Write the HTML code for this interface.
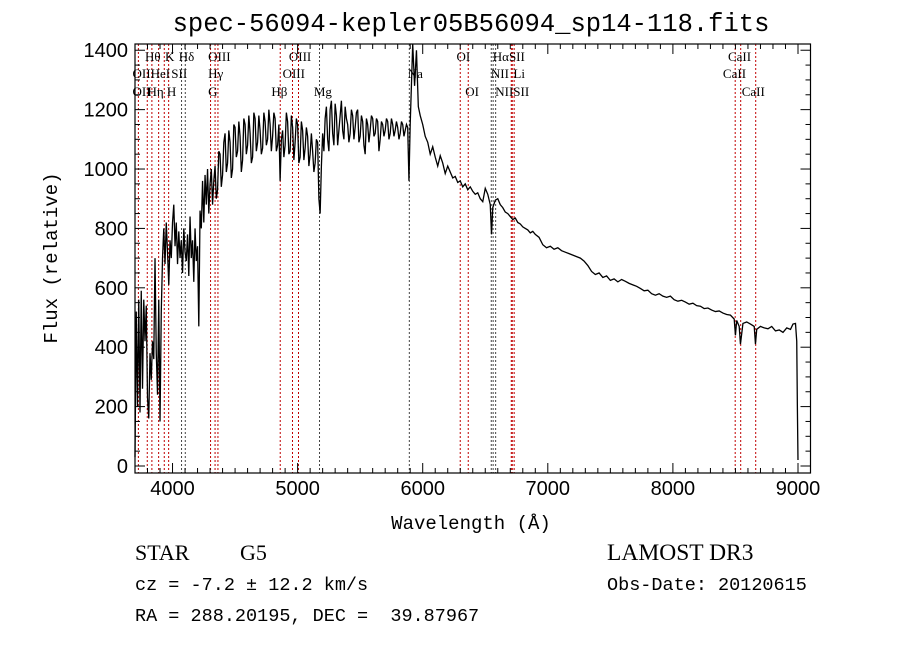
<!DOCTYPE html>
<html><head><meta charset="utf-8">
<style>
html,body{margin:0;padding:0;background:#fff;}
svg{display:block;}
.t{font-family:"Liberation Sans",sans-serif;fill:#000;}
.s{font-family:"Liberation Serif",serif;fill:#000;}
.m{font-family:"Liberation Mono",monospace;fill:#000;}
</style></head>
<body>
<svg id="chart" width="900" height="649" viewBox="0 0 900 649" xmlns="http://www.w3.org/2000/svg">
<rect width="900" height="649" fill="#fff"/>
<text class="m" x="471" y="31" font-size="25.5" text-anchor="middle">spec-56094-kepler05B56094_sp14-118.fits</text>
<g id="lines"></g>
<g id="labels"></g>
<path id="spec" fill="none" stroke="#000" stroke-width="1.3"/>
<rect x="135" y="44" width="675.5" height="429" fill="none" stroke="#000" stroke-width="1.2"/>
<g id="ticks"></g>
<text class="m" x="471" y="529" font-size="19" text-anchor="middle">Wavelength (Å)</text>
<text class="m" x="57" y="258" font-size="19" text-anchor="middle" transform="rotate(-90 57 258)">Flux (relative)</text>
<text class="s" x="135" y="560" font-size="22">STAR</text>
<text class="s" x="240" y="560" font-size="22">G5</text>
<text class="s" x="607" y="560" font-size="23.5">LAMOST DR3</text>
<text class="m" x="135" y="590" font-size="18.5">cz = -7.2 ± 12.2 km/s</text>
<text class="m" x="607" y="590" font-size="18.5">Obs-Date: 20120615</text>
<text class="m" x="135" y="621" font-size="18.5" xml:space="preserve">RA = 288.20195, DEC =  39.87967</text>
</svg>
<script>
const wavelengths = [3700,3710,3720,3730,3740,3750,3760,3770,3780,3790,3800,3810,3820,3830,3840,3850,3860,3870,3880,3890,3900,3910,3920,3930,3940,3950,3960,3970,3980,3990,4000,4010,4020,4030,4040,4050,4060,4070,4080,4090,4100,4110,4120,4130,4140,4150,4160,4170,4180,4190,4200,4210,4220,4230,4240,4250,4260,4270,4280,4290,
4300,4310,4320,4330,4340,4350,4360,4370,4380,4390,4400,4410,4420,4430,4440,4450,4460,4470,4480,4490,4500,4510,4520,4530,4540,4550,4560,4570,4580,4590,4600,4610,4620,4630,4640,4650,4660,4670,4680,4690,4700,4710,4720,4730,4740,4750,4760,4770,4780,4790,4800,4810,4820,4830,4840,4850,4860,4870,4880,4890,4900,4910,4920,4930,4940,4950,4960,4970,4980,4990,5000,5010,5020,5030,5040,5050,5060,5070,5080,5090,5100,5110,5120,5130,5140,5150,5160,5170,5180,5190,5200,5210,5220,5230,5240,5250,5260,5270,5280,5290,5300,5310,5320,5330,5340,5350,5360,5370,5380,5390,5400,5410,5420,5430,5440,5450,5460,5470,5480,5490,5500,5510,5520,5530,5540,5550,5560,5570,5580,5590,5600,5610,5620,5630,5640,5650,5660,5670,5680,5690,5700,5710,5720,5730,5740,5750,5760,5770,5780,5790,5800,5810,5820,5830,5840,5850,5860,5870,5880,
5890,5900,5920,5935,5950,5965,5980,
6000,6020,6040,6060,6080,6100,6120,6140,6160,6180,6200,6220,6240,6260,6280,6300,6320,6340,6360,6380,6400,6420,6440,6460,6480,6500,6520,6540,6550,6560,6580,6600,6620,6640,6660,6680,6700,6720,6740,6760,6780,6800,6820,6840,6860,6880,
6900,6930,6960,6990,7020,7050,7080,7110,7140,7170,7200,7230,7260,7290,7320,7350,7380,7410,7440,7470,7500,7530,7560,7590,7620,7650,7680,7710,7740,7770,7800,7830,7860,7890,7920,7950,7980,8010,8040,8070,8100,8130,8160,8190,8220,8250,8280,8310,8340,8370,8400,8430,8460,8490,8500,8510,8530,8540,8560,8590,8620,8650,8660,8670,8700,8730,8760,8790,8820,8850,8880,8910,8940,8960,8980,8990,8995,9000];
const fluxValues = [30,520,200,560,180,590,260,560,420,540,230,160,380,290,420,360,700,380,240,560,150,520,700,800,680,820,720,610,760,700,820,880,740,820,680,790,700,760,650,800,720,690,780,640,840,700,760,620,800,690,740,470,860,800,960,820,980,880,1000,850,
950,1000,880,960,1010,900,930,1060,1050,940,980,1090,1120,990,1020,1130,1090,970,1000,1150,1140,1040,1060,1160,1110,990,1030,1170,1150,1050,1080,1180,1120,1020,1040,1190,1170,1060,1090,1180,1130,1050,1070,1190,1160,1080,1100,1200,1150,1060,1110,1190,1170,1060,1080,1150,960,1100,1130,1040,1080,1190,1160,1050,1060,1180,1140,1030,1090,1170,1150,1020,1040,1160,1130,1030,1070,1140,1110,1010,1050,1120,1060,990,1020,1100,1090,900,850,1010,1120,1060,1170,1210,1100,1060,1200,1230,1120,1080,1220,1180,1080,1130,1180,1230,1130,1100,1210,1170,1150,1090,1120,1200,1180,1100,1140,1190,1200,1090,1110,1180,1160,1080,1050,1170,1150,1090,1130,1180,1170,1110,1120,1170,1160,1060,1100,1160,1150,1110,1130,1170,1160,1100,1120,1170,1150,1110,1130,1160,1140,1100,1120,1160,1150,1110,1130,1150,1140,
960,1150,1430,1280,1400,1210,1180,
1150,1110,1090,1050,1075,1040,1010,1045,1020,985,1010,990,970,975,955,960,940,950,930,940,925,915,920,900,890,935,915,880,780,870,895,900,880,870,855,850,840,830,835,820,815,805,800,795,785,790,
780,770,745,735,740,730,735,725,720,715,710,705,700,690,675,655,645,650,635,640,625,630,620,628,622,615,610,605,598,590,592,580,575,580,572,568,572,560,555,558,552,545,548,540,538,530,532,525,520,522,515,510,508,495,440,490,470,410,480,485,478,470,410,460,470,465,462,470,455,458,450,465,460,478,480,420,200,20];
const markerWaves = [3727,3798,3835,3889,3934,3969,4072,4102,4304,4340,4363,4861,4959,5007,5175,5893,6300,6364,6548,6563,6583,6708,6716,6731,8498,8542,8662];
const markerDark = [0,0,0,0,0,0,1,1,0,0,0,0,0,0,1,1,0,0,1,1,1,0,0,0,0,0,0];
const labelTexts = ["Hθ","K","Hδ","OIII","OIII","OI","HαSII","CaII","OII","HeI","SII","Hγ","OIII","Na","NII","Li","CaII","OII","Hη","H","G","Hβ","Mg","OI","NIISII","CaII"];
const labelWaves = [3780,3940,4050,4285,4930,6270,6560,8440,3680,3825,3990,4285,4880,5880,6545,6725,8400,3680,3800,3955,4285,4790,5130,6340,6580,8550];
const labelRows = [0,0,0,0,0,0,0,0,1,1,1,1,1,1,1,1,1,2,2,2,2,2,2,2,2,2];
const xTickValues = [4000,5000,6000,7000,8000,9000];
const yTickValues = [0,200,400,600,800,1000,1200,1400];

const NS = "http://www.w3.org/2000/svg";
const X0=135, X1=810.5, Y0=473, Y1=44, WMIN=3700, WMAX=9100, FMIN=-23.6, FMAX=1421;
function xs(w){return X0+(w-WMIN)/(WMAX-WMIN)*(X1-X0);}
function ys(f){return Y0-(f-FMIN)/(FMAX-FMIN)*(Y0-Y1);}
function clampY(y){return Math.max(Y1,Math.min(Y0,y));}

let d="";
for(let i=0;i<wavelengths.length;i++){
  const x=xs(wavelengths[i]), y=clampY(ys(fluxValues[i]));
  d+=(i?"L":"M")+x.toFixed(2)+" "+y.toFixed(2);
}
document.getElementById("spec").setAttribute("d",d);

const lg=document.getElementById("lines");
for(let i=0;i<markerWaves.length;i++){
  const l=document.createElementNS(NS,"line");
  const x=xs(markerWaves[i]);
  l.setAttribute("x1",x);l.setAttribute("x2",x);l.setAttribute("y1",Y1);l.setAttribute("y2",Y0);
  l.setAttribute("stroke",markerDark[i]?"#444":"#c00000");
  l.setAttribute("stroke-width","1");
  l.setAttribute("stroke-dasharray","2,2");
  
  
  lg.appendChild(l);
}
const lb=document.getElementById("labels");
const rowY=[61,78,96];
for(let i=0;i<labelTexts.length;i++){
  const t=document.createElementNS(NS,"text");
  t.setAttribute("x",xs(labelWaves[i]));
  t.setAttribute("y",rowY[labelRows[i]]);
  t.setAttribute("class","s");
  t.setAttribute("font-size","13");
  t.textContent=labelTexts[i];
  
  
  lb.appendChild(t);
}
const tg=document.getElementById("ticks");
function tick(x1,y1,x2,y2){
  const l=document.createElementNS(NS,"line");
  l.setAttribute("x1",x1);l.setAttribute("y1",y1);l.setAttribute("x2",x2);l.setAttribute("y2",y2);
  l.setAttribute("stroke","#000");l.setAttribute("stroke-width","1");
  
  
  tg.appendChild(l);
}
for(let w=3700;w<=9100;w+=100){
  const x=xs(w), major=(w%1000===0), len=major?10:5;
  tick(x,Y0,x,Y0-len); tick(x,Y1,x,Y1+len);
}
for(let f=0;f<=1400;f+=50){
  const y=ys(f), major=(f%200===0), len=major?10:5;
  tick(X0,y,X0+len,y); tick(X1,y,X1-len,y);
}
for(const v of xTickValues){
  const t=document.createElementNS(NS,"text");
  t.setAttribute("x",xs(v));t.setAttribute("y",Y0+22);
  t.setAttribute("class","t");t.setAttribute("font-size","20");t.setAttribute("text-anchor","middle");
  t.textContent=v;
  
  
  tg.appendChild(t);
}
for(const v of yTickValues){
  const t=document.createElementNS(NS,"text");
  t.setAttribute("x",X0-7);t.setAttribute("y",ys(v)+7);
  t.setAttribute("class","t");t.setAttribute("font-size","20");t.setAttribute("text-anchor","end");
  t.textContent=v;
  
  
  tg.appendChild(t);
}
</script>
</body></html>
